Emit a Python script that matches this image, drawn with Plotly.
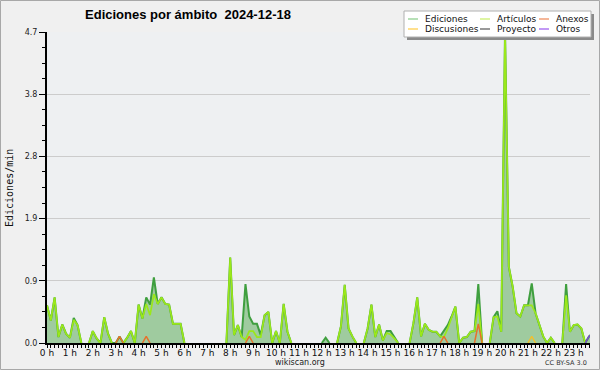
import plotly.graph_objects as go

# ---------------- data (10-minute intervals, edits per minute) ----------------
minutes = list(range(0, 1440, 10))

ediciones = [
    0.57, 0.34, 0.69, 0.09, 0.28, 0.14, 0.08, 0.38, 0.27, 0, 0, 0,
    0.18, 0.07, 0, 0.39, 0.14, 0, 0, 0.1, 0, 0.08, 0.18, 0,
    0.58, 0.37, 0.69, 0.58, 0.99, 0.59, 0.69, 0.59, 0.58, 0.29, 0.29, 0.29,
    0, 0, 0, 0, 0, 0, 0, 0, 0, 0, 0, 0,
    1.29, 0.12, 0.27, 0.09, 0.89, 0.4, 0.29, 0.29, 0.12, 0.42, 0.47, 0,
    0.18, 0, 0.59, 0.17, 0, 0, 0, 0, 0, 0, 0, 0,
    0, 0.08, 0, 0, 0, 0.25, 0.88, 0.22, 0.1, 0, 0, 0,
    0.22, 0.58, 0.09, 0.28, 0.04, 0.18, 0.18, 0.09, 0, 0, 0, 0,
    0.3, 0.69, 0.1, 0.29, 0.2, 0.17, 0.17, 0.1, 0.19, 0.27, 0.4, 0.55,
    0, 0.08, 0.09, 0.17, 0.18, 0.89, 0, 0, 0, 0.39, 0.48, 0.17,
    4.7, 1.15, 0.85, 0.45, 0.4, 0.57, 0.57, 0.9, 0.45, 0.27, 0.1, 0,
    0.08, 0, 0, 0, 0.89, 0.17, 0.27, 0.28, 0.22, 0, 0.1, 0.15,
]

articulos = [
    0.57, 0.34, 0.69, 0.09, 0.28, 0.14, 0.08, 0.35, 0.27, 0, 0, 0,
    0.18, 0.07, 0, 0.39, 0.14, 0, 0, 0, 0, 0.08, 0.18, 0,
    0.58, 0.37, 0.59, 0.42, 0.74, 0.59, 0.69, 0.59, 0.58, 0.29, 0.29, 0.29,
    0, 0, 0, 0, 0, 0, 0, 0, 0, 0, 0, 0,
    1.29, 0.12, 0.27, 0.09, 0.05, 0.18, 0.18, 0.09, 0.09, 0.42, 0.47, 0,
    0.18, 0, 0.59, 0.17, 0, 0, 0, 0, 0, 0, 0, 0,
    0, 0, 0, 0, 0, 0.25, 0.88, 0.22, 0.1, 0, 0, 0,
    0.22, 0.58, 0.09, 0.28, 0.04, 0.15, 0.13, 0.07, 0, 0, 0, 0,
    0.3, 0.69, 0.1, 0.29, 0.2, 0.17, 0.17, 0.1, 0.09, 0.22, 0.4, 0.55,
    0, 0.08, 0.09, 0.17, 0.18, 0.59, 0, 0, 0, 0.39, 0.4, 0.17,
    4.7, 1.15, 0.85, 0.45, 0.4, 0.57, 0.57, 0.57, 0.45, 0.27, 0.1, 0,
    0.08, 0, 0, 0, 0.72, 0.17, 0.27, 0.28, 0.22, 0, 0, 0,
]

anexos = [
    0, 0, 0, 0, 0, 0, 0, 0, 0, 0, 0, 0,
    0, 0, 0, 0, 0, 0, 0, 0.1, 0, 0, 0, 0,
    0, 0, 0.1, 0, 0, 0, 0, 0, 0, 0, 0, 0,
    0, 0, 0, 0, 0, 0, 0, 0, 0, 0, 0, 0,
    0, 0, 0, 0, 0, 0.1, 0, 0, 0, 0, 0, 0,
    0, 0, 0, 0, 0, 0, 0, 0, 0, 0, 0, 0,
    0, 0, 0, 0, 0, 0, 0, 0, 0, 0, 0, 0,
    0, 0, 0, 0, 0, 0, 0, 0, 0, 0, 0, 0,
    0, 0, 0, 0, 0, 0, 0, 0, 0.1, 0, 0, 0,
    0, 0, 0, 0, 0, 0.29, 0, 0, 0, 0, 0, 0,
    0, 0, 0, 0, 0, 0, 0, 0, 0, 0, 0, 0,
    0, 0, 0, 0, 0, 0, 0, 0, 0, 0, 0, 0,
]

discusiones = [
    0, 0, 0, 0, 0, 0, 0, 0, 0, 0, 0, 0,
    0, 0, 0, 0, 0, 0, 0, 0, 0, 0, 0, 0,
    0, 0, 0, 0, 0, 0, 0, 0, 0, 0, 0, 0,
    0, 0, 0, 0, 0, 0, 0, 0, 0, 0, 0, 0,
    0, 0, 0, 0, 0, 0, 0, 0, 0, 0, 0, 0,
    0, 0, 0, 0, 0, 0, 0, 0, 0, 0, 0, 0,
    0, 0, 0, 0, 0, 0, 0, 0, 0, 0, 0, 0,
    0, 0, 0, 0, 0, 0, 0, 0, 0, 0, 0, 0,
    0, 0, 0, 0, 0, 0, 0, 0, 0, 0, 0, 0,
    0, 0, 0, 0, 0, 0, 0, 0, 0, 0, 0, 0,
    0, 0, 0, 0, 0, 0, 0, 0.1, 0, 0, 0, 0,
    0, 0, 0, 0, 0, 0, 0, 0, 0, 0, 0, 0,
]

proyecto = [0] * 144

otros = [
    0, 0, 0, 0, 0, 0, 0, 0, 0, 0, 0, 0,
    0, 0, 0, 0, 0, 0, 0, 0, 0, 0, 0, 0,
    0, 0, 0, 0, 0, 0, 0, 0, 0, 0, 0, 0,
    0, 0, 0, 0, 0, 0, 0, 0, 0, 0, 0, 0,
    0, 0, 0, 0, 0, 0, 0, 0, 0, 0, 0, 0,
    0, 0, 0, 0, 0, 0, 0, 0, 0, 0, 0, 0,
    0, 0, 0, 0, 0, 0, 0, 0, 0, 0, 0, 0,
    0, 0, 0, 0, 0, 0, 0, 0, 0, 0, 0, 0,
    0, 0, 0, 0, 0, 0, 0, 0, 0, 0, 0, 0,
    0, 0, 0, 0, 0, 0, 0, 0, 0, 0, 0, 0,
    0, 0, 0, 0, 0, 0, 0, 0, 0, 0, 0, 0,
    0, 0, 0, 0, 0, 0, 0, 0, 0, 0, 0.1, 0.15,
]

hour_ticks = list(range(24))
hour_labels = [f"{h} h" for h in hour_ticks]
y_tick_vals = [0, 0.94, 1.88, 2.82, 3.76, 4.7]
y_tick_text = ["0.0", "0.9", "1.9", "2.8", "3.8", "4.7"]

legend_names = ["Ediciones", "Artículos", "Anexos", "Discusiones", "Proyecto", "Otros"]
legend_colors = ["#88cc88", "#c8ee66", "#ee8855", "#ffcc44", "#555555", "#9955ee"]

# ---------------- layout geometry ----------------
W, H = 600, 370
ML, MR, MT, MB = 47, 10, 32, 27
PW, PH = W - ML - MR, H - MT - MB


def px(x):
    return (x - ML) / PW


def py(y):
    return (H - MB - y) / PH


def hide_flat_zero(values):
    """Leave out zero points whose neighbours are zero too (nothing to draw there)."""
    out = []
    n = len(values)
    for i, v in enumerate(values):
        prev_v = values[i - 1] if i > 0 else 0
        next_v = values[i + 1] if i < n - 1 else 0
        if v == 0 and prev_v == 0 and next_v == 0:
            out.append(None)
        else:
            out.append(v)
    return out


hours = [m / 60 for m in minutes]

fig = go.Figure()

fig.add_trace(go.Scatter(
    x=hours, y=hide_flat_zero(ediciones), name="Ediciones", mode="lines",
    line=dict(color="#3f9f3f", width=2), fill="tozeroy", fillcolor="#9fcb9f",
    connectgaps=False, showlegend=False,
))
fig.add_trace(go.Scatter(
    x=hours, y=hide_flat_zero(articulos), name="Artículos", mode="lines",
    line=dict(color="#9be81a", width=1.7), connectgaps=False, showlegend=False,
))
fig.add_trace(go.Scatter(
    x=hours, y=hide_flat_zero(proyecto), name="Proyecto", mode="lines",
    line=dict(color="#555555", width=1.5), connectgaps=False, showlegend=False,
))
fig.add_trace(go.Scatter(
    x=hours, y=hide_flat_zero(discusiones), name="Discusiones", mode="lines",
    line=dict(color="#f0c030", width=1.5), connectgaps=False, showlegend=False,
))
fig.add_trace(go.Scatter(
    x=hours, y=hide_flat_zero(anexos), name="Anexos", mode="lines",
    line=dict(color="#e8702a", width=1.5), connectgaps=False, showlegend=False,
))
fig.add_trace(go.Scatter(
    x=hours, y=hide_flat_zero(otros), name="Otros", mode="lines",
    line=dict(color="#7b45d6", width=1.5), connectgaps=False, showlegend=False,
))

shapes = []
# figure border
shapes.append(dict(type="rect", xref="paper", yref="paper",
                   x0=px(0.5), x1=px(599.5), y0=py(369.5), y1=py(0.5),
                   line=dict(color="#a8a8a8", width=1), layer="above"))
# legend shadow + box
shapes.append(dict(type="rect", xref="paper", yref="paper",
                   x0=px(407), x1=px(594), y0=py(40), y1=py(14),
                   fillcolor="#8a8a8a", line=dict(width=0), layer="above"))
shapes.append(dict(type="rect", xref="paper", yref="paper",
                   x0=px(404), x1=px(591), y0=py(37), y1=py(11),
                   fillcolor="#ffffff", line=dict(color="#b0b0b0", width=1), layer="above"))

annotations = []
col_line_x = [408, 480, 539]
row_y = [19, 29]
for k, (name, col) in enumerate(zip(legend_names, legend_colors)):
    r, c = divmod(k, 3)
    x0 = col_line_x[c]
    yy = row_y[r]
    shapes.append(dict(type="line", xref="paper", yref="paper",
                       x0=px(x0), x1=px(x0 + 10), y0=py(yy), y1=py(yy),
                       line=dict(color=col, width=1.2), layer="above"))
    annotations.append(dict(xref="paper", yref="paper", x=px(x0 + 15), y=py(yy),
                            text=name, showarrow=False, xanchor="left", yanchor="middle",
                            font=dict(family="DejaVu Sans", size=9, color="#111111")))

annotations.append(dict(xref="paper", yref="paper", x=px(9), y=py(188),
                        text="Ediciones/min", showarrow=False, textangle=-90,
                        xanchor="center", yanchor="middle",
                        font=dict(family="DejaVu Sans Mono", size=10, color="#111111")))
annotations.append(dict(xref="paper", yref="paper", x=px(300), y=py(362),
                        text="wikiscan.org", showarrow=False,
                        xanchor="center", yanchor="middle",
                        font=dict(family="DejaVu Sans", size=8, color="#222222")))
annotations.append(dict(xref="paper", yref="paper", x=px(589), y=py(363),
                        text="CC BY-SA 3.0", showarrow=False,
                        xanchor="right", yanchor="middle",
                        font=dict(family="DejaVu Sans", size=6.5, color="#333333")))

fig.update_layout(
    width=W, height=H,
    margin=dict(l=ML, r=MR, t=MT, b=MB, pad=0),
    paper_bgcolor="#f0f0f0",
    plot_bgcolor="#eef0f2",
    title=dict(text="Ediciones por ámbito\u00a0\u00a02024-12-18",
               x=188 / W, xanchor="center", y=1 - 14 / H, yanchor="middle",
               font=dict(family="Liberation Sans", size=13, color="#000000", weight="bold")),
    shapes=shapes,
    annotations=annotations,
    showlegend=False,
)

fig.update_xaxes(
    range=[0, 23.71], tickmode="array", tickvals=hour_ticks, ticktext=hour_labels,
    ticks="outside", ticklen=3, tickwidth=1, tickcolor="#000000",
    minor=dict(dtick=1 / 6, tick0=0, ticks="outside", ticklen=3, tickwidth=1, tickcolor="#000000"),
    showline=True, linecolor="#000000", linewidth=2,
    showgrid=False, zeroline=False, ticklabelstandoff=-3,
    tickfont=dict(family="DejaVu Sans", size=9, color="#111111"),
)
fig.update_yaxes(
    range=[0, 4.7], tickmode="array", tickvals=y_tick_vals, ticktext=y_tick_text,
    ticks="outside", ticklen=6, tickwidth=1, tickcolor="#000000",
    minor=dict(dtick=0.235, tick0=0, ticks="outside", ticklen=3, tickwidth=1, tickcolor="#000000"),
    showline=True, linecolor="#000000", linewidth=2,
    showgrid=True, gridcolor="#cccccc", gridwidth=1, zeroline=False,
    tickfont=dict(family="DejaVu Sans", size=8, color="#222222"),
)

page_css = "document.body.style.margin='0';document.body.style.padding='0';document.body.style.background='#f0f0f0';"
fig.write_html("out.html", post_script=page_css, config={"displayModeBar": False})
